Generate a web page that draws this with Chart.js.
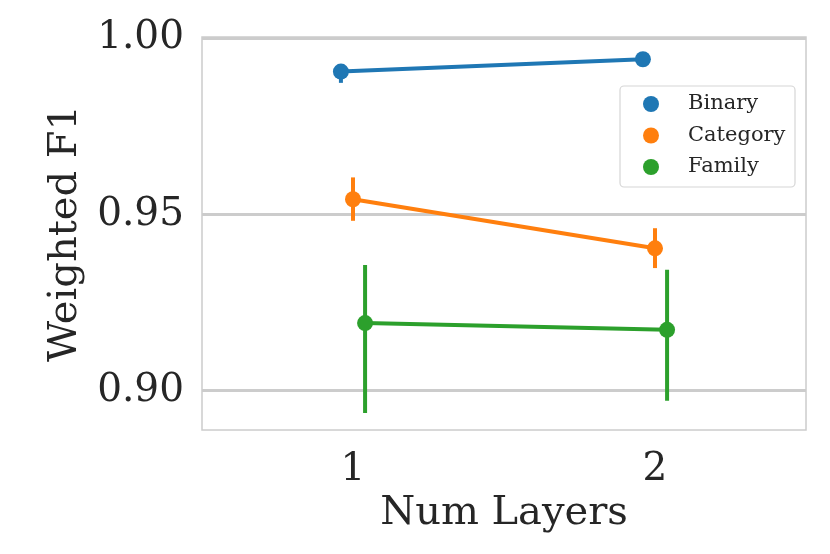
<!DOCTYPE html>
<html lang="en">
<head>
  <meta charset="utf-8">
  <title>Weighted F1 by Num Layers</title>
  <style type="text/css">
    html, body { margin: 0; padding: 0; background: #ffffff; }
    .chart { width: 830px; height: 554px; }
  </style>
</head>
<body>
  <div class="chart">
    <canvas id="pointChart" width="830" height="554"></canvas>
  </div>

  <script src="https://cdn.jsdelivr.net/npm/chart.js"></script>
  <script>
    // values
    const layers = ["1", "2"];
    const yTicks = [0.90, 0.95, 1.00];
    const seriesNames = ["Binary", "Category", "Family"];
    const seriesColors = ["#1f77b4", "#ff7f0e", "#2ca02c"];

    const binaryMean = [0.9905, 0.9940];
    const binaryLow = [0.9873, 0.9935];
    const binaryHigh = [0.9921, 0.9945];

    const categoryMean = [0.9543, 0.9404];
    const categoryLow = [0.9482, 0.9348];
    const categoryHigh = [0.9605, 0.9461];

    const familyMean = [0.9192, 0.9173];
    const familyLow = [0.8937, 0.8972];
    const familyHigh = [0.9357, 0.9343];

    const means = [binaryMean, categoryMean, familyMean];
    const lows = [binaryLow, categoryLow, familyLow];
    const highs = [binaryHigh, categoryHigh, familyHigh];

    // seaborn-like dodge between hues
    const dodge = [-0.04, 0, 0.04];
    const FONT = "'DejaVu Serif', serif";
    const GRID = "#cccccc";

    const datasets = seriesNames.map((name, i) => ({
      label: name,
      data: means[i].map((v, j) => ({ x: j + 1 + dodge[i], y: v })),
      borderColor: seriesColors[i],
      backgroundColor: seriesColors[i],
      borderWidth: 4,
      pointRadius: 8,
      pointHoverRadius: 8,
      pointBorderWidth: 0,
      tension: 0,
    }));

    // error bars, drawn under the markers
    const errorBars = {
      id: "errorBars",
      beforeDatasetsDraw(chart) {
        const ctx = chart.ctx;
        const xs = chart.scales.x, ys = chart.scales.y;
        ctx.save();
        ctx.lineWidth = 4;
        ctx.lineCap = "butt";
        seriesNames.forEach((name, i) => {
          ctx.strokeStyle = seriesColors[i];
          layers.forEach((l, j) => {
            const px = xs.getPixelForValue(j + 1 + dodge[i]);
            ctx.beginPath();
            ctx.moveTo(px, ys.getPixelForValue(lows[i][j]));
            ctx.lineTo(px, ys.getPixelForValue(highs[i][j]));
            ctx.stroke();
          });
        });
        ctx.restore();
      }
    };

    // light frame round the axes, like seaborn whitegrid
    const frame = {
      id: "frame",
      beforeDatasetsDraw(chart) {
        const a = chart.chartArea, ctx = chart.ctx;
        ctx.save();
        ctx.strokeStyle = GRID;
        ctx.lineWidth = 1.5;
        ctx.strokeRect(a.left, a.top, a.right - a.left, a.bottom - a.top);
        ctx.restore();
      }
    };

    // legend box inside the axes, upper right
    const innerLegend = {
      id: "innerLegend",
      afterDraw(chart) {
        const ctx = chart.ctx, a = chart.chartArea;
        const bx = a.right - 186, by = a.top + 49, bw = 175, bh = 101;
        ctx.save();
        ctx.fillStyle = "rgba(255,255,255,0.85)";
        ctx.strokeStyle = "#d6d6d6";
        ctx.lineWidth = 1.2;
        ctx.beginPath();
        ctx.roundRect(bx, by, bw, bh, 4);
        ctx.fill();
        ctx.stroke();
        ctx.font = "21px " + FONT;
        ctx.textBaseline = "middle";
        chart.data.datasets.forEach((ds, i) => {
          const cy = by + 18 + i * 31.5;
          ctx.fillStyle = ds.borderColor;
          ctx.beginPath();
          ctx.arc(bx + 31, cy, 8, 0, Math.PI * 2);
          ctx.fill();
          ctx.fillStyle = "#262626";
          ctx.fillText(ds.label, bx + 68, cy);
        });
        ctx.restore();
      }
    };

    new Chart(document.getElementById("pointChart").getContext("2d"), {
      type: "line",
      data: { datasets: datasets },
      plugins: [frame, errorBars, innerLegend],
      options: {
        responsive: false,
        animation: false,
        layout: { padding: { top: 37, right: 24, left: 0, bottom: 0 } },
        plugins: { legend: { display: false }, tooltip: { enabled: false } },
        scales: {
          x: {
            type: "linear",
            min: 0.5,
            max: 2.5,
            afterBuildTicks(s) { s.ticks = layers.map((l, j) => ({ value: j + 1 })); },
            afterFit(s) { s.height = 124; },
            ticks: {
              callback: (v) => layers[Math.round(v) - 1],
              color: "#262626",
              font: { family: FONT, size: 39 },
              padding: 16,
              maxRotation: 0,
            },
            grid: { display: false, drawTicks: false },
            border: { display: false },
            title: {
              display: true,
              text: "Num Layers",
              color: "#262626",
              font: { family: FONT, size: 40 },
              padding: { top: 0, bottom: 16 },
            },
          },
          y: {
            min: 0.8889,
            max: 1.0003,
            afterBuildTicks(s) { s.ticks = yTicks.map(v => ({ value: v })); },
            afterFit(s) { s.width = 202; },
            ticks: {
              callback: (v) => v.toFixed(2),
              color: "#262626",
              font: { family: FONT, size: 39, lineHeight: 0.5 },
              padding: 18,
            },
            grid: { color: GRID, lineWidth: 3, drawTicks: false },
            border: { display: false },
            title: {
              display: true,
              text: "Weighted F1",
              color: "#262626",
              font: { family: FONT, size: 40 },
              padding: { top: 42, bottom: 0 },
            },
          },
        },
      },
    });
  </script>
</body>
</html>
